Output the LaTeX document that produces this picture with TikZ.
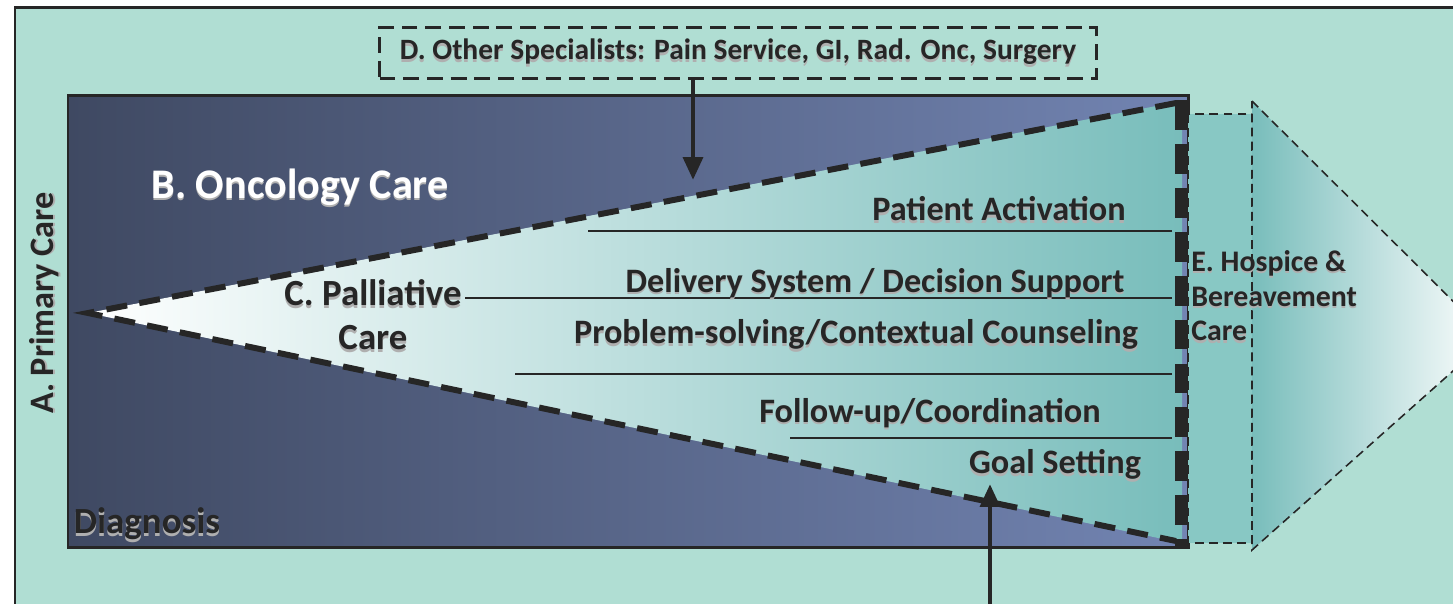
\documentclass[tikz,border=0pt]{standalone}
\usepackage{fontspec}
\setmainfont{Carlito}
\usetikzlibrary{arrows.meta}
\definecolor{mint}{RGB}{176,222,211}
\definecolor{slate}{RGB}{63,73,98}
\definecolor{periwinkle}{RGB}{114,132,178}
\definecolor{palteal}{RGB}{120,189,187}
\definecolor{hospteal}{RGB}{136,200,196}
\definecolor{ink}{RGB}{38,38,38}
\definecolor{shade}{RGB}{175,175,175}
\newcommand\shtxt[1]{\rlap{\raisebox{-1.4pt}{\color{shade}#1}}#1}
\begin{document}
\begin{tikzpicture}[x=0.02cm,y=-0.02cm,
  lbl/.style={font=\bfseries\fontsize{19.5}{22}\selectfont, text=ink, inner sep=0pt},
  sep/.style={draw=ink, line width=1.2pt},
  wedge/.style={draw=ink, line width=3.4pt, dash pattern=on 12pt off 7pt},
  wedgeend/.style={draw=ink, line width=6.5pt, dash pattern=on 17pt off 8pt},
  thindash/.style={draw=ink, line width=0.9pt, dash pattern=on 5pt off 3pt},
  arr/.style={draw=ink, line width=2.8pt, -{Triangle[length=13pt,width=11pt]}}]
\useasboundingbox (0,0) rectangle (1453,603);
\clip (0,0) rectangle (1453,603);
\fill[white] (0,0) rectangle (1453,603);
\draw[fill=mint, draw=ink, line width=1.7pt] (15,7) rectangle (1490,650);

\draw[left color=slate, right color=periwinkle, draw=ink, line width=1.7pt] (68,95) rectangle (1188,547);

\shade[left color=white, right color=palteal] (88,313) -- (1182,101) -- (1182,543) -- cycle;
\draw[wedge] (1176,103) -- (88,313) -- (1176,541);
\draw[wedgeend] (1181,100) -- (1181,546);

\filldraw[fill=hospteal, thindash] (1188,114) rectangle (1252,543);
\shade[left color=palteal, right color=white] (1252,101) -- (1490,338) -- (1252,550) -- cycle;
\draw[thindash] (1252,101) -- (1490,338) -- (1252,550) -- cycle;

\draw[sep] (588,231) -- (1172,231);
\draw[sep] (465,298) -- (1172,298);
\draw[sep] (515,374) -- (1172,374);
\draw[sep] (790,438) -- (1172,438);

\node[lbl, draw=ink, line width=1.6pt, dash pattern=on 9pt off 4.5pt,
  minimum width=14.34cm, minimum height=1.02cm, font=\bfseries\fontsize{16.8}{19}\selectfont]
  (spec) at (738,53) {\shtxt{D. Other Specialists: Pain Service, GI, Rad. Onc, Surgery}};
\coordinate (spectip) at (693,180);
\draw[arr] (spectip |- spec.south) -- (spectip);

\coordinate (goalfoot) at (990,620);
\coordinate (goaltip) at (990,484);
\draw[arr] (goalfoot) -- (goaltip);

\node[lbl, rotate=90] (primary) at (45,303) {\shtxt{A. Primary Care}};
\node[lbl, text=white, font=\bfseries\fontsize{24}{28}\selectfont] (onco) at (300,188) {\shtxt{B. Oncology Care}};
\node[lbl, align=center, font=\bfseries\fontsize{21}{25}\selectfont] (pall) at (373,316) {\shtxt{C. Palliative}\\\shtxt{Care}};
\node[lbl, font=\bfseries\fontsize{21}{25}\selectfont] (diag) at (147,525) {\shtxt{Diagnosis}};

\node[lbl] (activ) at (999,210) {\shtxt{Patient Activation}};
\node[lbl] (deliv) at (875,284) {\shtxt{Delivery System / Decision Support}};
\node[lbl] (probl) at (856,336) {\shtxt{Problem-solving/Contextual Counseling}};
\node[lbl] (follow) at (930,414) {\shtxt{Follow-up/Coordination}};
\node[lbl] (goal) at (1055,466) {\shtxt{Goal Setting}};

\node[lbl, anchor=west, align=left, font=\bfseries\fontsize{17}{19.8}\selectfont]
  (hosp) at (1191,297) {\shtxt{E. Hospice \&}\\\shtxt{Bereavement}\\\shtxt{Care}};
\end{tikzpicture}
\end{document}
